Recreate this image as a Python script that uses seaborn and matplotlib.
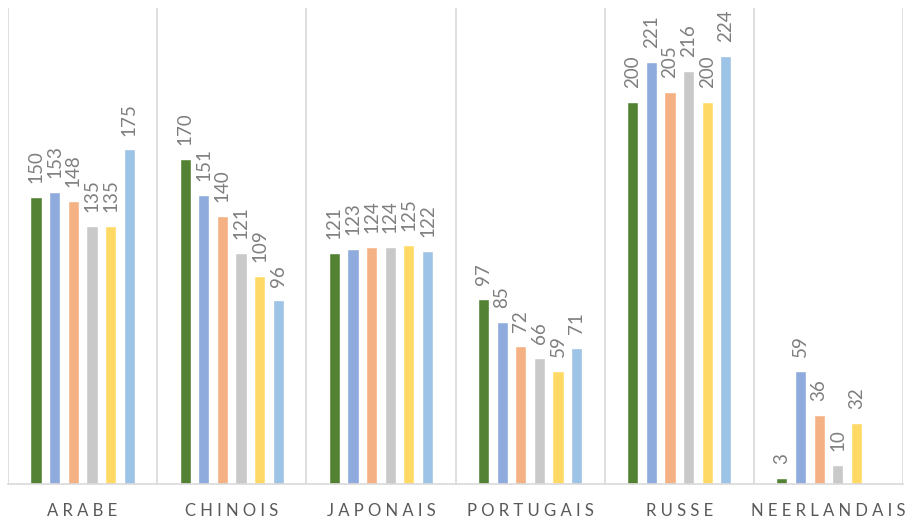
import matplotlib
matplotlib.use("Agg")
import matplotlib.pyplot as plt
import seaborn as sns
import pandas as pd
import numpy as np

categories = ["ARABE", "CHINOIS", "JAPONAIS", "PORTUGAIS", "RUSSE", "NEERLANDAIS"]
series_names = ["Série 1", "Série 2", "Série 3", "Série 4", "Série 5", "Série 6"]
s1 = [150, 170, 121, 97, 200, 3]
s2 = [153, 151, 123, 85, 221, 59]
s3 = [148, 140, 124, 72, 205, 36]
s4 = [135, 121, 124, 66, 216, 10]
s5 = [135, 109, 125, 59, 200, 32]
s6 = [175, 96, 122, 71, 224, np.nan]
colors = ["#548235", "#8FAADC", "#F4B183", "#C9C9C9", "#FFD966", "#9DC3E6"]

rows = []
for name, vals in zip(series_names, [s1, s2, s3, s4, s5, s6]):
    for cat, v in zip(categories, vals):
        rows.append({"cat": cat, "serie": name, "val": v})
df = pd.DataFrame(rows)

sns.set_style("white")
plt.rcParams["font.family"] = ["Lato", "DejaVu Sans"]

fig = plt.figure(figsize=(9.05, 5.21), dpi=100)
ax = fig.add_axes([8 / 905, 37 / 521, 895 / 905, 476 / 521])

sns.barplot(data=df.dropna(), x="cat", y="val", hue="serie", order=categories,
            hue_order=series_names, palette=colors, width=0.75, gap=0.4,
            saturation=1, legend=False, ax=ax, errorbar=None)

for cont in ax.containers:
    ax.bar_label(cont, fmt="{:.0f}", padding=10, rotation=90, color="#7F7F7F",
                 fontsize=13.5)

ax.set_xlim(-0.5, len(categories) - 0.5)
ax.set_ylim(0, 249)
for i in range(len(categories) + 1):
    ax.axvline(i - 0.5, color="#D9D9D9", lw=1.2, zorder=0)

for s in ["top", "right", "left"]:
    ax.spines[s].set_visible(False)
ax.spines["bottom"].set_color("#D9D9D9")
ax.spines["bottom"].set_linewidth(1.2)

ax.set_yticks([])
ax.set_xticks(range(len(categories)))
ax.set_xticklabels([" ".join(c) for c in categories], fontsize=12, color="#595959")
ax.tick_params(axis="x", length=0, pad=14)
ax.set_xlabel("")
ax.set_ylabel("")

fig.savefig("out.png", dpi=100)
